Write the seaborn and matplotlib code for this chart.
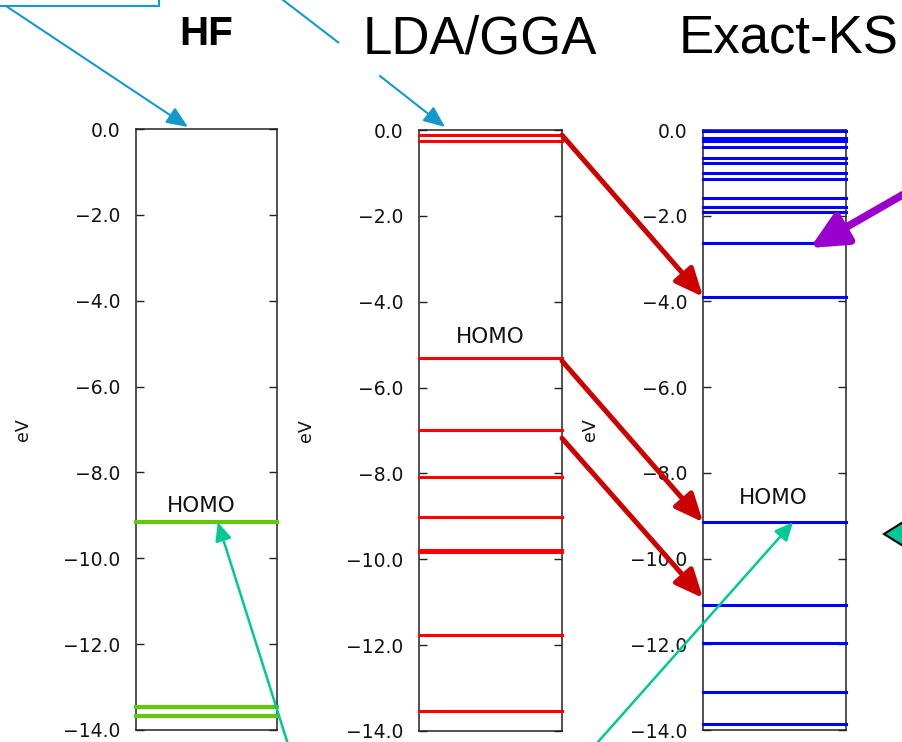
import numpy as np
import pandas as pd
import matplotlib
matplotlib.use("Agg")
import matplotlib.pyplot as plt
from matplotlib.patches import Polygon, Rectangle, ConnectionPatch
import seaborn as sns

# ---- data -----------------------------------------------------------------
methods = ["HF", "LDA/GGA", "Exact-KS"]
hf_levels = [-9.16, -13.47, -13.68]
lda_levels = [-0.12, -0.26, -5.31, -7.00, -8.08, -9.01, -9.78, -9.83,
              -11.76, -13.54]
ks_levels = [-0.02, -0.18, -0.25, -0.40, -0.66, -0.76, -1.01, -1.14,
             -1.59, -1.79, -1.91, -2.64, -3.89, -9.15, -11.09, -11.98,
             -13.12, -13.85]
homo_levels = [-9.16, -5.31, -9.15]
yticks = [0.0, -2.0, -4.0, -6.0, -8.0, -10.0, -12.0, -14.0]
ytick_labels = ["0.0", "\u22122.0", "\u22124.0", "\u22126.0", "\u22128.0",
                "\u221210.0", "\u221212.0", "\u221214.0"]
# LDA/GGA level -> Exact-KS level shifts shown by the red arrows
shift_from = [-0.12, -5.38, -7.18]
shift_to = [-3.89, -9.15, -10.92]

# ---- style ----------------------------------------------------------------
W, H = 903, 742
sns.set_style("white")
plt.rcParams["font.family"] = ["DejaVu Sans"]
plt.rcParams["text.color"] = "black"

level_colors = ["#62C80E", "#FF0000", "#0000FF"]
level_widths = [3.0, 2.2, 2.2]
# axes boxes in pixels: left, top, right, bottom
boxes = [(136, 129, 277, 730), (419, 130, 562, 731), (703, 130, 846, 730)]
homo_x = [0.46, 0.50, 0.49]
homo_dy = [0.37, 0.48, 0.57]
cyan = "#1499CC"
teal = "#00C896"
dark_red = "#CC0000"
purple = "#9900CC"

fig = plt.figure(figsize=(W / 100, H / 100), dpi=100)
fig.patch.set_facecolor("white")

axes = []
for i, (levels, name) in enumerate(zip([hf_levels, lda_levels, ks_levels], methods)):
    l, t, r, b = boxes[i]
    ax = fig.add_axes([l / W, 1 - b / H, (r - l) / W, (b - t) / H])
    n = len(levels)
    df = pd.DataFrame({
        "x": np.tile([0.0, 1.0], n),
        "E": np.repeat(levels, 2),
        "lvl": np.repeat(np.arange(n), 2),
    })
    sns.lineplot(data=df, x="x", y="E", units="lvl", estimator=None,
                 color=level_colors[i], lw=level_widths[i], ax=ax,
                 legend=False, solid_capstyle="projecting", clip_on=False,
                 zorder=3)
    ax.set_xlim(0, 1)
    ax.set_ylim(-14, 0)
    ax.set_xticks([])
    ax.set_yticks(yticks, ytick_labels)
    ax.set_xlabel("")
    ax.set_ylabel("eV", fontsize=12.5, color="#111111")
    ax.yaxis.set_label_coords(-104 / (r - l), 0.5)
    ax.tick_params(axis="y", direction="in", left=True, right=True,
                   length=6, width=1.0, color="#222222", labelsize=13.5,
                   labelcolor="#111111", pad=11)
    for s in ax.spines.values():
        s.set_visible(True)
        s.set_color("#222222")
        s.set_linewidth(1.1)
    ax.text(homo_x[i], homo_levels[i] + homo_dy[i], "HOMO", ha="center",
            va="center", fontsize=15.5, color="#111111", zorder=4)
    axes.append(ax)

# ---- titles ---------------------------------------------------------------
fig.text(206 / W, 1 - 45 / H, methods[0], ha="center", va="baseline",
         fontsize=29, fontweight="bold", family="Liberation Sans",
         color="black")
fig.text(479.5 / W, 1 - 53 / H, methods[1], ha="center", va="baseline",
         fontsize=38, family="Liberation Sans", color="black")
fig.text(788.5 / W, 1 - 53 / H, methods[2], ha="center", va="baseline",
         fontsize=38, family="Liberation Sans", color="black")

# ---- overlay in pixel coordinates for the callout arrows ------------------
ov = fig.add_axes([0, 0, 1, 1], zorder=10)
ov.set_xlim(0, W)
ov.set_ylim(H, 0)
ov.axis("off")
ov.patch.set_alpha(0)

ov.add_patch(Rectangle((-10, -10), 169, 16, fill=False, ec=cyan, lw=1.5,
                       clip_on=False))


def arrow(tip, start, color, lw, hl, hw, xycoords="data"):
    ov.annotate("", xy=tip, xycoords=xycoords, xytext=start,
                textcoords="data", annotation_clip=False,
                arrowprops=dict(arrowstyle=f"-|>,head_length={hl},head_width={hw}",
                                color=color, lw=lw, shrinkA=0, shrinkB=0,
                                mutation_scale=1))


# cyan callouts to the vacuum level
arrow((188, 127), (6, 6), cyan, 1.5, 13, 5.5)
ov.plot([270, 339], [-10, 43], color=cyan, lw=1.5, solid_capstyle="butt")
arrow((445, 127), (380, 76), cyan, 1.5, 13, 5.5)

# teal callouts to the HOMO levels
arrow((0.58, homo_levels[0]), (293, 760), teal, 1.8, 11, 5,
      xycoords=axes[0].transData)
arrow((0.63, homo_levels[2]), (582, 760), teal, 1.8, 11, 5,
      xycoords=axes[2].transData)

# purple callout to the first unoccupied KS gap level
arrow((810, 248), (925, 182), purple, 5.5, 22, 10.5)

# teal marker at the right edge
ov.add_patch(Polygon([(884, 534), (940, 499), (940, 569)], closed=True,
                     fc=teal, ec="black", lw=1.5, clip_on=False))

# red arrows: LDA/GGA levels shifted down to the exact KS levels
for y0, y1 in zip(shift_from, shift_to):
    cp = ConnectionPatch(xyA=(1.0, y0), coordsA=axes[1].transData,
                         xyB=(0.0, y1), coordsB=axes[2].transData,
                         arrowstyle="-|>,head_length=17,head_width=7.5",
                         color=dark_red, lw=3.6, shrinkA=0, shrinkB=0,
                         mutation_scale=1, zorder=12)
    fig.add_artist(cp)

fig.savefig("out.png", dpi=100, facecolor="white")
